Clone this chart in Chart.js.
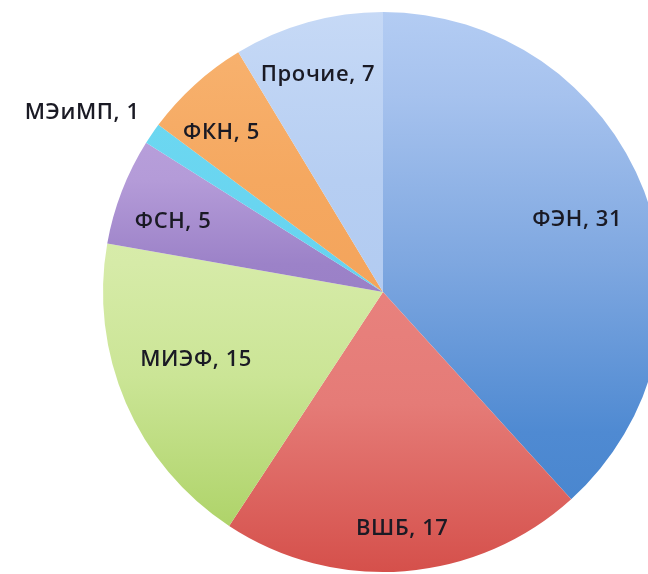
<!DOCTYPE html>
<html>
<head>
<meta charset="utf-8">
<script src="https://cdn.jsdelivr.net/npm/chart.js@4/dist/chart.umd.min.js"></script>
<style>
html, body { margin: 0; padding: 0; overflow: hidden; background: #ffffff; width: 648px; height: 574px; }
#wrap { position: relative; width: 766px; height: 574px; }
</style>
</head>
<body>
<div id="wrap"><canvas id="c" width="766" height="574"></canvas></div>
<script>
// Data
const categories = ["ФЭН", "ВШБ", "МИЭФ", "ФСН", "МЭиМП", "ФКН", "Прочие"];
const values = [31, 17, 15, 5, 1, 5, 7];

// Styles: gradient stops per slice (position over pie's vertical extent, colour)
const sliceGradients = [
  [[0, "#b3ccf3"], [0.15, "#a6c2ee"], [0.45, "#7ea7e0"], [0.75, "#4f8ad2"], [1, "#4483cc"]],
  [[0, "#f0928d"], [0.7, "#e57b77"], [1, "#d5504b"]],
  [[0, "#e2f1b8"], [0.45, "#d6eba8"], [0.65, "#cbe596"], [1, "#a6ce5c"]],
  [[0, "#c1a9e0"], [0.3, "#b49bd8"], [0.45, "#9c82c8"], [1, "#8a6fbc"]],
  [[0, "#70daf2"], [1, "#5ccbec"]],
  [[0, "#f8b472"], [0.3, "#f5a860"], [1, "#f09a50"]],
  [[0, "#c6d9f6"], [0.3, "#b6cef2"], [1, "#a8c4ee"]]
];
// Label placement: [radius fraction, angle shift in degrees]
const labelPlacement = [[0.74, 0.7], [0.85, -0.2], [0.71, 3.4], [0.79, -2.7], [1.25, -3.7], [0.81, -3.2], [0.81, -1.1]];

function makeFill(ctx) {
  const chart = ctx.chart;
  const area = chart.chartArea;
  if (!area) return "#888";
  const g = chart.ctx.createLinearGradient(0, area.top, 0, area.bottom);
  sliceGradients[ctx.dataIndex].forEach(s => g.addColorStop(s[0], s[1]));
  return g;
}

const labelPlugin = {
  id: "sliceLabels",
  afterDatasetsDraw(chart) {
    const meta = chart.getDatasetMeta(0);
    const c = chart.ctx;
    c.save();
    c.font = "600 22px 'Open Sans', 'Noto Sans', sans-serif";
    if ("letterSpacing" in c) c.letterSpacing = "0.6px";
    c.fillStyle = "#1a1a24";
    c.textAlign = "center";
    c.textBaseline = "middle";
    meta.data.forEach((arc, i) => {
      const p = arc.getProps(["x", "y", "startAngle", "endAngle", "outerRadius"], true);
      const pl = labelPlacement[i];
      const a = (p.startAngle + p.endAngle) / 2 + pl[1] * Math.PI / 180;
      const r = p.outerRadius * pl[0];
      const x = p.x + Math.cos(a) * r;
      const y = p.y + Math.sin(a) * r;
      c.fillText(categories[i] + ", " + values[i], x, y);
    });
    c.restore();
  }
};

new Chart(document.getElementById("c"), {
  type: "pie",
  data: {
    labels: categories,
    datasets: [{
      data: values,
      backgroundColor: makeFill,
      borderWidth: 0,
      hoverOffset: 0
    }]
  },
  options: {
    responsive: false,
    animation: false,
    layout: { padding: { top: 12, bottom: 2, left: 0, right: 0 } },
    plugins: {
      legend: { display: false },
      tooltip: { enabled: false }
    }
  },
  plugins: [labelPlugin]
});
</script>
</body>
</html>
